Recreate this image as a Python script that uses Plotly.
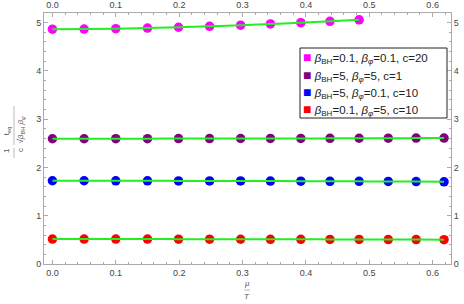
import plotly.graph_objects as go

mu_T = [0.0, 0.05, 0.1, 0.15, 0.199, 0.248, 0.297, 0.344, 0.392, 0.438, 0.484, 0.530, 0.574, 0.618]

y_magenta = [4.865, 4.868, 4.875, 4.888, 4.905, 4.925, 4.948, 4.973, 5.0, 5.028, 5.058]
y_purple = [2.595, 2.595, 2.596, 2.597, 2.598, 2.599, 2.600, 2.601, 2.602, 2.603, 2.605, 2.606, 2.608, 2.610]
y_blue = [1.725, 1.725, 1.724, 1.723, 1.722, 1.721, 1.720, 1.718, 1.716, 1.714, 1.712, 1.710, 1.707, 1.703]
y_red = [0.517, 0.517, 0.516, 0.516, 0.515, 0.514, 0.513, 0.512, 0.511, 0.510, 0.508, 0.507, 0.505, 0.503]

labels = [
    "<i>β</i><sub>BH</sub>=0.1, <i>β<sub>φ</sub></i>=0.1, c=20",
    "<i>β</i><sub>BH</sub>=5, <i>β<sub>φ</sub></i>=5, c=1",
    "<i>β</i><sub>BH</sub>=5, <i>β<sub>φ</sub></i>=0.1, c=10",
    "<i>β</i><sub>BH</sub>=0.1, <i>β<sub>φ</sub></i>=5, c=10",
]
colors = ["#ff00ff", "#800080", "#0000ff", "#ff0000"]
series = [y_magenta, y_purple, y_blue, y_red]

x_ticks = [0.0, 0.1, 0.2, 0.3, 0.4, 0.5, 0.6]
y_ticks = [0, 1, 2, 3, 4, 5]

fig = go.Figure()

for ys, col, lab in zip(series, colors, labels):
    xs = mu_T[:len(ys)]
    fig.add_trace(go.Scatter(x=xs, y=ys, mode="markers", name=lab,
                             marker=dict(color=col, size=9.5, line=dict(width=0)),
                             showlegend=False))
    fig.add_trace(go.Scatter(x=xs, y=ys, mode="lines",
                             line=dict(color="#22ee22", width=2, shape="spline"),
                             showlegend=False))

# invisible traces so the mirrored axes are drawn
fig.add_trace(go.Scatter(x=[0.3], y=[2.5], xaxis="x2", yaxis="y", mode="markers",
                         marker=dict(opacity=0), showlegend=False, hoverinfo="skip"))
fig.add_trace(go.Scatter(x=[0.3], y=[2.5], xaxis="x", yaxis="y2", mode="markers",
                         marker=dict(opacity=0), showlegend=False, hoverinfo="skip"))

xr = [-0.0133, 0.629]
yr = [0, 5.2]
axcol = "#aaaaaa"
tickfont = dict(family="Liberation Sans, Arial", size=9, color="#444444")

common_x = dict(range=xr, tickvals=x_ticks, ticktext=[f"{v:.1f}" for v in x_ticks],
                ticks="inside", ticklen=4, tickcolor=axcol, showgrid=False, zeroline=False,
                showline=True, linecolor=axcol, linewidth=1, tickfont=tickfont, automargin=False,
                minor=dict(dtick=0.02, tick0=0, ticks="inside", ticklen=2, tickcolor=axcol))
common_y = dict(range=yr, tickvals=y_ticks, ticktext=[str(v) for v in y_ticks],
                ticks="inside", ticklen=4, tickcolor=axcol, automargin=False,
                showgrid=False, zeroline=False, showline=True, linecolor=axcol, linewidth=1,
                tickfont=tickfont, showticklabels=True,
                minor=dict(dtick=0.2, tick0=0, ticks="inside", ticklen=2, tickcolor=axcol))

fig.update_layout(
    width=464, height=304,
    margin=dict(l=44, r=13, t=13, b=40, autoexpand=False),
    paper_bgcolor="white", plot_bgcolor="white",
    font=dict(family="Liberation Sans, Arial", color="#222222"),
    xaxis=dict(**common_x, side="bottom"),
    yaxis=dict(**common_y, side="left"),
    xaxis2=dict(**common_x, side="top", overlaying="x", anchor="y"),
    yaxis2=dict(**common_y, side="right", overlaying="y", anchor="x"),
    showlegend=False,
)

def px2paper_x(p):
    return (p - 44) / (464 - 44 - 13)

def px2paper_y(p):
    return (304 - 40 - p) / (304 - 40 - 13)

# legend box
fig.add_shape(type="rect", xref="paper", yref="paper",
              x0=px2paper_x(300), x1=px2paper_x(447), y0=px2paper_y(118), y1=px2paper_y(48),
              line=dict(color="#222222", width=1), fillcolor="white", layer="above")
for i, (lab, col) in enumerate(zip(labels, colors)):
    yc = 58 + i * 17.3
    fig.add_annotation(text=f'<span style="color:{col};font-size:14px">■</span> {lab}',
                       xref="paper", yref="paper", x=px2paper_x(301), y=px2paper_y(yc),
                       xanchor="left", yanchor="middle", showarrow=False, align="left",
                       font=dict(size=11.5, family="Liberation Sans, Arial", color="#222222"))

# y-axis title as stacked fraction
fig.add_annotation(text="1&nbsp;&nbsp;&nbsp;&nbsp;&nbsp;&nbsp;t<sub>eq</sub>",
                   xref="paper", yref="paper", x=px2paper_x(7), y=px2paper_y(140), textangle=-90,
                   xanchor="center", yanchor="middle",
                   showarrow=False, font=dict(size=8, color="#555555"))
fig.add_annotation(text="c&nbsp;&nbsp;√<i>β</i><sub>BH</sub> <i>β<sub>φ</sub></i>",
                   xref="paper", yref="paper", x=px2paper_x(21), y=px2paper_y(134), textangle=-90,
                   xanchor="center", yanchor="middle",
                   showarrow=False, font=dict(size=8, color="#555555"))
fig.add_shape(type="line", xref="paper", yref="paper",
              x0=px2paper_x(14), x1=px2paper_x(14), y0=px2paper_y(158), y1=px2paper_y(148),
              line=dict(color="#bbbbbb", width=1))
fig.add_shape(type="line", xref="paper", yref="paper",
              x0=px2paper_x(14), x1=px2paper_x(14), y0=px2paper_y(145), y1=px2paper_y(106),
              line=dict(color="#bbbbbb", width=1))

# x-axis title as fraction
fig.add_annotation(text="<i>μ</i>", xref="paper", yref="paper",
                   x=px2paper_x(247), y=px2paper_y(283), xanchor="center", yanchor="middle",
                   showarrow=False, font=dict(size=8, color="#555555"))
fig.add_annotation(text="<i>T</i>", xref="paper", yref="paper",
                   x=px2paper_x(247), y=px2paper_y(297), xanchor="center", yanchor="middle",
                   showarrow=False, font=dict(size=8, color="#555555"))
fig.add_shape(type="line", xref="paper", yref="paper",
              x0=px2paper_x(244), x1=px2paper_x(250), y0=px2paper_y(290), y1=px2paper_y(290),
              line=dict(color="#bbbbbb", width=1))

fig.write_html("out.html", config={"displayModeBar": False},
               post_script="document.body.style.margin='0';document.body.style.overflow='hidden';")
